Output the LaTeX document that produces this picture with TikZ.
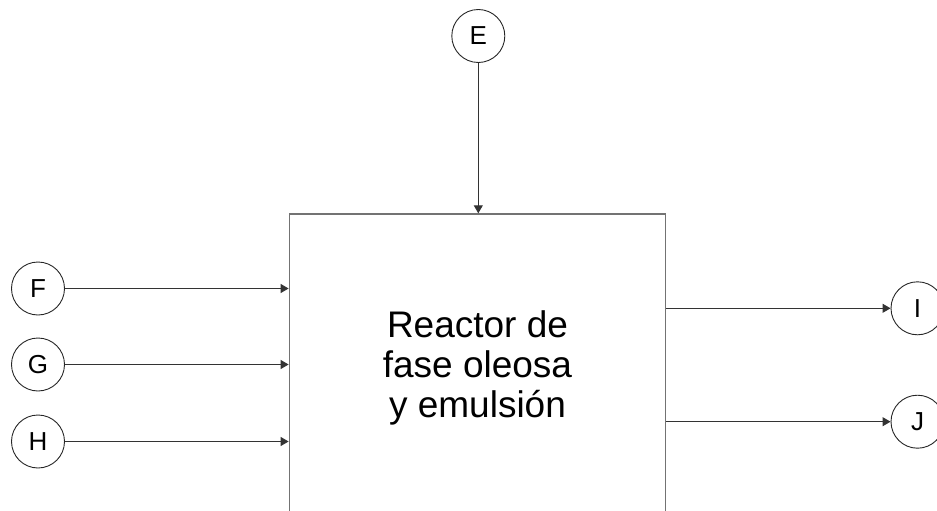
\documentclass[tikz,border=0pt]{standalone}
\usepackage{fontspec}
\setmainfont{Liberation Sans}
\usetikzlibrary{arrows.meta}
\begin{document}
\begin{tikzpicture}[x=1pt,y=-1pt,
  stream/.style={circle,draw=black!85,line width=0.9pt,minimum size=53pt,inner sep=0pt,font=\fontsize{26}{30}\selectfont},
  flow/.style={draw=black!80,line width=1pt,-{Triangle[length=8pt,width=9pt]}},
  reactor/.style={draw=black!55,line width=1.4pt}]
\useasboundingbox (0,0) rectangle (937,511);
\clip (0,0) rectangle (937,511);
\node[reactor,rectangle,minimum width=376.4pt,minimum height=386pt,inner sep=0pt] (box) at (477.5,407) {};
\node[align=center,font=\fontsize{37}{40}\selectfont] (label) at (477.5,368) {Reactor de\\fase oleosa\\y emulsión};
\node[stream] (E) at (478.3,36) {E};
\node[stream] (F) at (38,288.5) {F};
\node[stream] (G) at (38,364.5) {G};
\node[stream] (H) at (38,441.5) {H};
\node[stream] (I) at (917.5,308.3) {I};
\node[stream] (J) at (917.5,421.7) {J};
\draw[flow] (E) -- (box.north -| E);
\draw[flow] (F) -- (F -| box.west);
\draw[flow] (G) -- (G -| box.west);
\draw[flow] (H) -- (H -| box.west);
\draw[flow] (I -| box.east) -- (I);
\draw[flow] (J -| box.east) -- (J);
\end{tikzpicture}
\end{document}
